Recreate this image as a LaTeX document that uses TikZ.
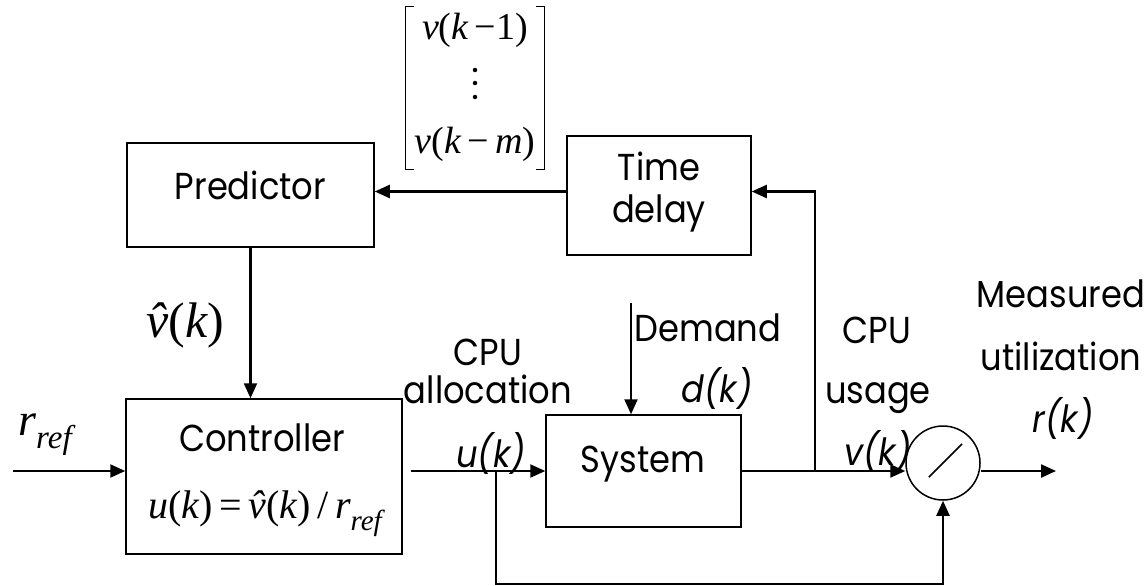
\documentclass[tikz,border=0pt]{standalone}
\usepackage{fontspec}
\setmainfont{Poppins}[FakeStretch=0.9]
\newfontfamily\tnr{Liberation Serif}
\usetikzlibrary{arrows.meta}
\newcommand{\mi}[1]{{\itshape #1}}
\newcommand{\vhat}{{\itshape\accent"02C6 v}}
\newcommand{\sz}{\fontsize{37.5}{43}\selectfont}
\begin{document}
\begin{tikzpicture}[x=1pt,y=-1pt,
  blk/.style={draw, line width=1.5pt, inner sep=0pt},
  arr/.style={line width=2.2pt, -{Triangle[length=15pt,width=13pt]}},
  lbl/.style={anchor=base, inner sep=0pt, font=\sz},
  mlbl/.style={anchor=base, inner sep=0pt, font=\tnr\fontsize{40}{44}\selectfont},
  dot/.style={circle, fill, inner sep=0pt, minimum size=4.5pt}]
\useasboundingbox (0,0) rectangle (1148,586);
% boxes
\node[blk, minimum width=247pt, minimum height=104pt] (pred) at (250.5,195) {};
\node[lbl] (predt) at (250.5,199) {Predictor};
\node[blk, minimum width=184pt, minimum height=119pt] (td) at (659,195.5) {};
\node[lbl] (tdt1) at (659,180) {Time};
\node[lbl] (tdt2) at (659,222) {delay};
\node[blk, minimum width=276pt, minimum height=155pt] (ctrl) at (264,476.5) {};
\node[lbl] (ctrlt) at (262,451) {Controller};
\node[mlbl] (ctrlf) at (265,518) {\mi{u}(\mi{k})\,=\,\vhat(\mi{k})\,/\,\mi{r}\raisebox{-0.3em}{\fontsize{29}{31}\selectfont\mi{ref}}};
\node[blk, minimum width=195pt, minimum height=112pt] (sys) at (643.5,471) {};
\node[lbl] (syst) at (643,472) {System};
\node[blk, circle, minimum size=74pt] (circ) at (943,463) {};
\draw[line width=1.5pt] ([shift={(225:20pt)}]circ.center) -- ([shift={(45:27pt)}]circ.center);
% matrix
\node[inner sep=0pt, minimum width=138pt, minimum height=162pt] (mat) at (475,88) {};
\draw[line width=1.3pt] ([xshift=8pt]mat.north west) -- (mat.north west) -- (mat.south west) -- ([xshift=8pt]mat.south west);
\draw[line width=1.3pt] ([xshift=-8pt]mat.north east) -- (mat.north east) -- (mat.south east) -- ([xshift=-8pt]mat.south east);
\node[mlbl, font=\tnr\fontsize{38}{40}\selectfont] (m1) at (475,40) {\mi{v}(\mi{k}\,−1)};
\node[dot] (d1) at (475,70) {};
\node[dot] (d2) at (475,83) {};
\node[dot] (d3) at (475,97) {};
\node[mlbl, font=\tnr\fontsize{38}{40}\selectfont] (m3) at (475,153) {\mi{v}(\mi{k}\,−\,\mi{m})};
% labels
\node[mlbl, font=\tnr\fontsize{50}{54}\selectfont] (vh) at (185,337) {\vhat(\mi{k})};
\node[mlbl, font=\tnr\fontsize{46}{50}\selectfont] (rref) at (45,435) {\mi{r}\raisebox{-0.3em}{\fontsize{33}{35}\selectfont\mi{ref}}};
\node[lbl] (cpu1) at (488,365) {CPU};
\node[lbl] (alloc) at (488,403) {allocation};
\node[lbl] (uk) at (491,467) {\itshape u(k)};
\node[lbl] (dem) at (708,341) {Demand};
\node[lbl] (dk) at (717,402) {\itshape d(k)};
\node[lbl] (cpu2) at (877,343) {CPU};
\node[lbl] (usage) at (878,403) {usage};
\node[lbl] (vk) at (878,465) {\itshape v(k)};
\node[lbl] (meas) at (1061,307) {Measured};
\node[lbl] (util) at (1061,370) {utilization};
\node[lbl] (rk) at (1063,432) {\itshape r(k)};
% coordinates
\coordinate (rin) at (13,471);
\coordinate (ub) at (496,471);
\coordinate (ubot) at (496,584);
\coordinate (tap) at (815,471);
\coordinate (demin) at (631,303);
\coordinate (out) at (1056,471);
% connectors
\draw[arr] ([yshift=4pt]td.west) -- ([yshift=4pt]td.west -| pred.east);
\draw[arr] (tap) |- ([yshift=4pt]td.east);
\draw[arr] (pred.south) -- (pred.south |- ctrl.north);
\draw[arr] (rin) -- (rin -| ctrl.west);
\draw[arr] ([xshift=8pt]ctrl.east |- sys.west) -- (sys.west);
\draw[arr] (sys.east) -- (sys.east -| circ.west);
\draw[arr] (sys.east -| circ.east) -- (out);
\draw[arr] (ub) -- (ubot) -| (circ.south);
\draw[arr] (demin) -- (demin |- sys.north);
\end{tikzpicture}
\end{document}
